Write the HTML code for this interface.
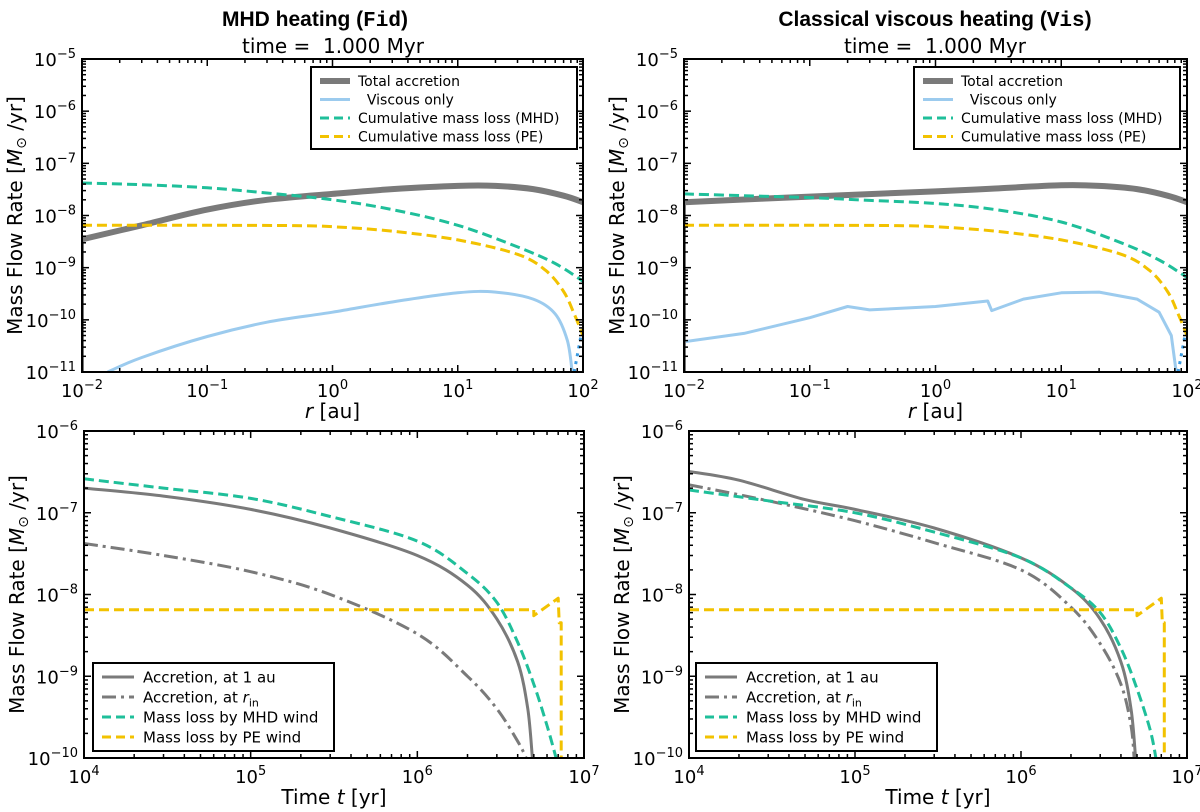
<!DOCTYPE html>
<html><head><meta charset="utf-8">
<style>
body{margin:0;background:#fff;}
svg{display:block;font-family:"DejaVu Sans","Liberation Sans",sans-serif;}
</style></head>
<body>
<svg id="fig" width="1200" height="812" viewBox="0 0 1200 812" xmlns="http://www.w3.org/2000/svg">
<text x="315" y="26" text-anchor="middle" font-size="21" font-weight="bold" font-family="Liberation Sans, sans-serif">MHD heating (<tspan font-family="Liberation Mono, monospace">Fid</tspan>)</text>
<text x="935" y="26" text-anchor="middle" font-size="21" font-weight="bold" font-family="Liberation Sans, sans-serif">Classical viscous heating (<tspan font-family="Liberation Mono, monospace">Vis</tspan>)</text>
<text x="333" y="53" text-anchor="middle" font-size="20">time =&#160; 1.000 Myr</text>
<text x="935" y="53" text-anchor="middle" font-size="20">time =&#160; 1.000 Myr</text>
</svg>
<script>
// ---- data ----
const rTotalL = [0.01,0.03,0.1,0.3,1,3,10,20,40,70,100];
const vTotalL = [3.5e-9,6.5e-9,1.3e-8,2e-8,2.6e-8,3.2e-8,3.7e-8,3.7e-8,3.2e-8,2.4e-8,1.8e-8];
const rMhdL = [0.01,0.03,0.1,0.3,1,3,10,30,60,100];
const vMhdL = [4.2e-8,3.9e-8,3.4e-8,2.7e-8,2e-8,1.3e-8,6.5e-9,2.5e-9,1.2e-9,5.5e-10];
const rPe = [0.01,0.1,0.5,1,3,10,30,50,70,85,100];
const vPe = [6.5e-9,6.5e-9,6.4e-9,6.1e-9,5e-9,3.4e-9,1.8e-9,9e-10,3.5e-10,1.3e-10,5e-11];
const rViscL = [0.016,0.03,0.1,0.3,1,3,10,20,40,60,75,82];
const vViscL = [1e-11,1.9e-11,4.8e-11,9e-11,1.4e-10,2.2e-10,3.3e-10,3.4e-10,2.5e-10,1.3e-10,4e-11,1e-11];
const rDot = [85,100];
const vDot = [1e-11,8e-11];
const rTotalR = [0.01,0.1,1,3,10,20,40,70,100];
const vTotalR = [1.8e-8,2.3e-8,2.9e-8,3.3e-8,3.8e-8,3.7e-8,3.2e-8,2.4e-8,1.8e-8];
const rMhdR = [0.01,0.03,0.1,0.3,1,3,10,30,60,100];
const vMhdR = [2.6e-8,2.4e-8,2.2e-8,1.95e-8,1.7e-8,1.3e-8,7.5e-9,3e-9,1.4e-9,6.5e-10];
const rViscR = [0.01,0.03,0.1,0.2,0.3,1,2.6,2.8,5,10,20,40,60,75,82];
const vViscR = [3.8e-11,5.5e-11,1.1e-10,1.8e-10,1.55e-10,1.8e-10,2.3e-10,1.5e-10,2.5e-10,3.3e-10,3.4e-10,2.5e-10,1.4e-10,5e-11,1e-11];

const tAccL = [1e4,3e4,1e5,3e5,1e6,2e6,3e6,4e6,4.6e6,4.9e6];
const vAccL = [2e-7,1.6e-7,1.1e-7,6.5e-8,3e-8,1.3e-8,5e-9,1.5e-9,4e-10,1e-10];
const tRinL = [1e4,3e4,1e5,3e5,1e6,2e6,3e6,4e6,4.5e6];
const vRinL = [4.2e-8,3e-8,1.9e-8,1e-8,3.3e-9,1e-9,4e-10,1.6e-10,1e-10];
const tMhdL = [1e4,3e4,1e5,3e5,1e6,2e6,3e6,4e6,5e6,6e6,6.8e6];
const vMhdLt = [2.6e-7,2e-7,1.5e-7,9e-8,4.5e-8,1.8e-8,8e-9,2.6e-9,8e-10,2.5e-10,1e-10];
const tPe = [1e4,5e6,5e6,7e6,7.1e6,7.3e6,7.3e6];
const vPeT = [6.5e-9,6.5e-9,5.5e-9,9e-9,4.5e-9,4.5e-9,1e-10];
const tAccR = [1e4,2e4,5e4,1e5,3e5,1e6,2e6,3e6,4e6,4.6e6,4.9e6];
const vAccR = [3.2e-7,2.5e-7,1.45e-7,1.1e-7,6.5e-8,2.8e-8,1.2e-8,5e-9,1.5e-9,4e-10,1e-10];
const tRinR = [1e4,3e4,1e5,3e5,1e6,2e6,3e6,4e6,4.6e6,4.8e6];
const vRinR = [2.2e-7,1.4e-7,8e-8,4.3e-8,2e-8,7e-9,2.5e-9,8e-10,2.5e-10,1e-10];
const tMhdR = [1e4,3e4,1e5,3e5,1e6,2e6,3e6,4e6,5e6,6e6,6.5e6];
const vMhdRt = [1.9e-7,1.4e-7,1e-7,5.8e-8,2.8e-8,1.2e-8,6e-9,2.2e-9,7e-10,2.2e-10,1e-10];

const NS="http://www.w3.org/2000/svg";
const svg=document.getElementById('fig');
function mk(tag,attrs,parent){const e=document.createElementNS(NS,tag);for(const k in attrs)e.setAttribute(k,attrs[k]);(parent||svg).appendChild(e);return e;}
function smoothPath(p){
  let d='M'+p[0][0].toFixed(1)+','+p[0][1].toFixed(1);
  for(let i=0;i<p.length-1;i++){
    const p0=p[i-1]||p[i],p1=p[i],p2=p[i+1],p3=p[i+2]||p2;
    const c1=[p1[0]+(p2[0]-p0[0])/6,p1[1]+(p2[1]-p0[1])/6];
    const c2=[p2[0]-(p3[0]-p1[0])/6,p2[1]-(p3[1]-p1[1])/6];
    d+=' C'+c1[0].toFixed(1)+','+c1[1].toFixed(1)+' '+c2[0].toFixed(1)+','+c2[1].toFixed(1)+' '+p2[0].toFixed(1)+','+p2[1].toFixed(1);
  }
  return d;
}
function panel(P){
  const g=mk('g',{});
  
  
  const sx=v=>P.x0+(Math.log10(v)-P.xmin)/(P.xmax-P.xmin)*(P.x1-P.x0);
  const sy=v=>P.y1-(Math.log10(v)-P.ymin)/(P.ymax-P.ymin)*(P.y1-P.y0);
  const clip='c'+P.name;
  const cp=mk('clipPath',{id:clip},g);mk('rect',{x:P.x0,y:P.y0,width:P.x1-P.x0,height:P.y1-P.y0},cp);
  const lg=mk('g',{'clip-path':'url(#'+clip+')'},g);
  P.series.forEach(s=>{
    const pts=s.x.map((xv,i)=>[sx(xv),sy(s.y[i])]);
    const d=s.sharp?'M'+pts.map(q=>q[0].toFixed(1)+','+q[1].toFixed(1)).join(' L'):smoothPath(pts);
    const pl=mk('path',{d:d,fill:'none',stroke:s.c,'stroke-width':s.w,'stroke-dasharray':s.d||'none','stroke-linejoin':'round'},lg);
    
    
  });
  const fr=mk('rect',{x:P.x0,y:P.y0,width:P.x1-P.x0,height:P.y1-P.y0,fill:'none',stroke:'#000','stroke-width':2},g);
  
  
  for(let e=P.xmin;e<=P.xmax;e++){
    for(let m=1;m<10;m++){
      if(e===P.xmax&&m>1)break;
      const x=sx(m*Math.pow(10,e));const L=m===1?7:4;
      mk('line',{x1:x,x2:x,y1:P.y1,y2:P.y1-L,stroke:'#000','stroke-width':1.5},g);
      mk('line',{x1:x,x2:x,y1:P.y0,y2:P.y0+L,stroke:'#000','stroke-width':1.5},g);
    }
    const t=mk('text',{x:sx(Math.pow(10,e)),y:P.y1+25,'text-anchor':'middle','font-size':18},g);
    
    
    t.textContent='10';const ts=mk('tspan',{dy:-8,'font-size':13},t);ts.textContent=String(e).replace('-','\u2212');
  }
  for(let e=P.ymin;e<=P.ymax;e++){
    for(let m=1;m<10;m++){
      if(e===P.ymax&&m>1)break;
      const y=sy(m*Math.pow(10,e));const L=m===1?7:4;
      mk('line',{x1:P.x0,x2:P.x0+L,y1:y,y2:y,stroke:'#000','stroke-width':1.5},g);
      mk('line',{x1:P.x1,x2:P.x1-L,y1:y,y2:y,stroke:'#000','stroke-width':1.5},g);
    }
    const t=mk('text',{x:P.x0-6,y:sy(Math.pow(10,e))+7,'text-anchor':'end','font-size':18},g);
    
    
    t.textContent='10';const ts=mk('tspan',{dy:-8,'font-size':13},t);ts.textContent=String(e).replace('-','\u2212');
  }
  const yl=mk('text',{x:0,y:0,transform:`translate(${P.x0-60},${(P.y0+P.y1)/2}) rotate(-90)`,'text-anchor':'middle','font-size':20},g);
  
  
  yl.innerHTML='Mass Flow Rate [<tspan font-style="italic">M</tspan><tspan font-size="14" dy="4">\u2299</tspan><tspan dy="-4"> /yr]</tspan>';
  const xl=mk('text',{x:(P.x0+P.x1)/2,y:P.y1+46,'text-anchor':'middle','font-size':20},g);
  
  
  xl.innerHTML=P.xlabel;
  const L=P.legend;
  const lb=mk('rect',{x:L.x,y:L.y,width:L.w,height:L.h,fill:'#fff',stroke:'#000','stroke-width':2},g);
  
  
  L.items.forEach((it,i)=>{
    const yy=L.y+L.top+i*L.dy;
    const ln=mk('line',{x1:L.x+9,x2:L.x+9+L.lw,y1:yy,y2:yy,stroke:it.c,'stroke-width':it.w,'stroke-dasharray':it.d||'none'},g);
    
    
    const tx=mk('text',{x:L.x+L.tx,y:yy+L.fs*0.36,'font-size':L.fs},g);
    
    
    tx.innerHTML=it.t;
  });
}
const GR='#7a7a7a',BL='#9ccbee',TE='#1fbf9a',YE='#f2c200';
const topLegend={x:311,y:67,w:266,h:82,top:14,dy:18.5,lw:30,tx:47,fs:14,items:[
 {t:'Total accretion',c:GR,w:6},{t:'\u00a0\u00a0Viscous only',c:BL,w:3},
 {t:'Cumulative mass loss (MHD)',c:TE,w:3,d:'9,5'},{t:'Cumulative mass loss (PE)',c:YE,w:3,d:'9,5'}]};
const botItems=[{t:'Accretion, at 1 au',c:GR,w:3},{t:'Accretion, at <tspan font-style="italic">r</tspan><tspan font-size="11" dy="4">in</tspan>',c:GR,w:3,d:'14,5,3,5'},
 {t:'Mass loss by MHD wind',c:TE,w:3,d:'9,5'},{t:'Mass loss by PE wind',c:YE,w:3,d:'9,5'}];
panel({name:'panel-top-left',x0:82,x1:583,y0:59,y1:372,xmin:-2,xmax:2,ymin:-11,ymax:-5,xlabel:'<tspan font-style="italic">r</tspan> [au]',legend:topLegend,
 series:[{name:'viscous-only',x:rViscL,y:vViscL,c:BL,w:3},{name:'viscous-dotted',x:rDot,y:vDot,c:'#3a9ae0',w:3,d:'3,5',sharp:1},
 {name:'total-accretion-drop',x:[0.01,0.01],y:[1e-12,3.5e-9],c:GR,w:4,sharp:1},
 {name:'total-accretion',x:rTotalL,y:vTotalL,c:GR,w:6},
 {name:'mass-loss-pe',x:rPe,y:vPe,c:YE,w:3,d:'10,5'},{name:'mass-loss-mhd',x:rMhdL,y:vMhdL,c:TE,w:3,d:'10,5'}]});
panel({name:'panel-top-right',x0:684,x1:1187,y0:59,y1:372,xmin:-2,xmax:2,ymin:-11,ymax:-5,xlabel:'<tspan font-style="italic">r</tspan> [au]',legend:Object.assign({},topLegend,{x:914}),
 series:[{name:'viscous-only',x:rViscR,y:vViscR,c:BL,w:3,sharp:1},{name:'viscous-dotted',x:rDot,y:vDot,c:'#3a9ae0',w:3,d:'3,5',sharp:1},
 {name:'total-accretion-drop',x:[0.01,0.01],y:[1e-12,1.8e-8],c:GR,w:4,sharp:1},
 {name:'total-accretion',x:rTotalR,y:vTotalR,c:GR,w:6},
 {name:'mass-loss-pe',x:rPe,y:vPe,c:YE,w:3,d:'10,5'},{name:'mass-loss-mhd',x:rMhdR,y:vMhdR,c:TE,w:3,d:'10,5'}]});
const botLegend={x:93,y:663,w:241,h:88,top:14,dy:20,lw:32,tx:50,fs:15,items:botItems};
panel({name:'panel-bottom-left',x0:84,x1:584,y0:431,y1:758,xmin:4,xmax:7,ymin:-10,ymax:-6,xlabel:'Time <tspan font-style="italic">t</tspan> [yr]',legend:botLegend,
 series:[{name:'accretion-rin',x:tRinL,y:vRinL,c:GR,w:3,d:'14,5,3,5'},{name:'accretion-1au',x:tAccL,y:vAccL,c:GR,w:3},
 {name:'mass-loss-pe',x:tPe,y:vPeT,c:YE,w:3,d:'10,5',sharp:1},{name:'mass-loss-mhd',x:tMhdL,y:vMhdLt,c:TE,w:3,d:'10,5'}]});
panel({name:'panel-bottom-right',x0:689,x1:1187,y0:431,y1:758,xmin:4,xmax:7,ymin:-10,ymax:-6,xlabel:'Time <tspan font-style="italic">t</tspan> [yr]',legend:Object.assign({},botLegend,{x:696}),
 series:[{name:'accretion-rin',x:tRinR,y:vRinR,c:GR,w:3,d:'14,5,3,5'},{name:'accretion-1au',x:tAccR,y:vAccR,c:GR,w:3},
 {name:'mass-loss-pe',x:tPe,y:vPeT,c:YE,w:3,d:'10,5',sharp:1},{name:'mass-loss-mhd',x:tMhdR,y:vMhdRt,c:TE,w:3,d:'10,5'}]});
</script>
</body></html>
